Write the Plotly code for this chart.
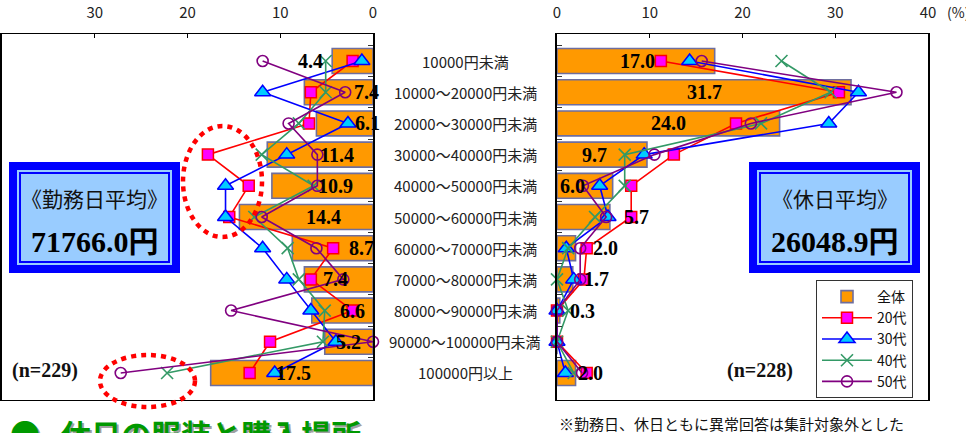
import plotly.graph_objects as go

W, H = 966, 433

categories = [
    "10000円未満", "10000～20000円未満", "20000～30000円未満", "30000～40000円未満",
    "40000～50000円未満", "50000～60000円未満", "60000～70000円未満", "70000～80000円未満",
    "80000～90000円未満", "90000～100000円未満", "100000円以上",
]

# 勤務日 (%)
work_all = [4.4, 7.4, 6.1, 11.4, 10.9, 14.4, 8.7, 7.4, 6.6, 5.2, 17.5]
work_20s = [2.2, 6.7, 6.9, 17.8, 13.4, 15.5, 4.3, 6.7, 2.2, 11.1, 13.3]
work_30s = [1.2, 11.9, 2.7, 9.3, 15.9, 15.9, 11.9, 9.3, 6.7, 4.0, 10.6]
work_40s = [5.1, 5.1, 8.0, 12.0, 6.4, 12.8, 9.2, 8.0, 5.2, 5.4, 22.2]
work_50s = [11.9, 3.0, 9.1, 6.0, 6.0, 12.0, 6.1, 3.2, 15.3, 0.0, 27.2]

# 休日 (%)
hol_all = [17.0, 31.7, 24.0, 9.7, 6.0, 5.7, 2.0, 1.7, 0.3, 0.0, 2.0]
hol_20s = [11.2, 30.4, 19.3, 12.6, 8.0, 8.0, 3.2, 2.9, 0.0, 0.0, 3.2]
hol_30s = [14.3, 32.5, 29.3, 9.4, 4.6, 5.5, 1.0, 1.8, 0.0, 0.0, 0.9]
hol_40s = [24.2, 29.5, 22.0, 7.3, 7.3, 4.1, 1.2, 0.0, 1.2, 0.0, 1.8]
hol_50s = [15.6, 36.6, 20.9, 10.5, 2.8, 5.3, 2.5, 2.5, 0.0, 0.0, 2.7]

x_ticks = [0, 10, 20, 30, 40]

work_avg = "71766.0円"
hol_avg = "26048.9円"
work_n = "(n=229)"
hol_n = "(n=228)"

# where each value label sits along its bar, as a multiple of the bar value
work_lbl_frac = [1.52, 0.09, 0.09, 0.34, 0.37, 0.37, 0.14, 0.54, 0.34, 0.5, 0.49]
hol_lbl_frac = [0.51, 0.5, 0.5, 0.42, 0.27, 1.51, 2.6, 2.53, 9.3, None, 1.78]

series_style = [
    ("20代", dict(symbol="square", size=11, color="#FF00FF", line=dict(color="#FF0000", width=1.5)), "#FF0000"),
    ("30代", dict(symbol="triangle-up", size=14, color="#00CCFF", line=dict(color="#0000FF", width=1.5)), "#0000FF"),
    ("40代", dict(symbol="x-thin-open", size=12, color="#339966", line=dict(color="#339966", width=1.6)), "#339966"),
    ("50代", dict(symbol="circle-open", size=11, color="#800080", line=dict(color="#800080", width=1.6)), "#800080"),
]

fig = go.Figure()

bar_style = dict(orientation="h", marker=dict(color="#FF9900", line=dict(color="#6E6E9E", width=1.6)),
                 hoverinfo="skip")

fig.add_trace(go.Bar(y=categories, x=work_all, name="全体", xaxis="x", yaxis="y",
                     showlegend=False, legendgroup="all", **bar_style))
fig.add_trace(go.Bar(y=categories, x=hol_all, name="全体", xaxis="x2", yaxis="y2",
                     showlegend=True, legendgroup="all", **bar_style))

for (name, mk, lc), wv, hv in zip(series_style,
                                  [work_20s, work_30s, work_40s, work_50s],
                                  [hol_20s, hol_30s, hol_40s, hol_50s]):
    for vals, xa, ya, show in ((wv, "x", "y", False), (hv, "x2", "y2", True)):
        fig.add_trace(go.Scatter(
            y=categories, x=vals, name=name, mode="lines+markers",
            xaxis=xa, yaxis=ya, showlegend=show, legendgroup=name,
            line=dict(color=lc, width=1.6), marker=mk, cliponaxis=False,
        ))

x_dom_l = [2 / W, 373 / W]
x_dom_r = [557 / W, 928 / W]
y_dom = [1 - 400 / H, 1 - 34 / H]

xaxis_common = dict(
    side="top", tickvals=x_ticks, ticks="inside", ticklen=4, tickcolor="#000",
    showline=True, linecolor="#000", linewidth=1, mirror=True, showgrid=False, zeroline=False,
    tickfont=dict(family="Noto Sans CJK JP", size=15, color="#222"), ticklabelstandoff=9,
    automargin=False,
)
yaxis_common = dict(
    type="category", categoryorder="array", categoryarray=categories, autorange="reversed",
    showticklabels=False, ticks="inside", ticklen=5, tickcolor="#333", tickson="boundaries",
    showline=True, linecolor="#000", linewidth=1.5, mirror=True, showgrid=False, automargin=False,
)

fig.update_layout(
    width=W, height=H, margin=dict(l=0, r=0, t=0, b=0, autoexpand=False),
    paper_bgcolor="white", plot_bgcolor="white",
    barmode="overlay", bargap=0.2,
    xaxis=dict(domain=x_dom_l, range=[40, 0], anchor="y", **xaxis_common),
    yaxis=dict(domain=y_dom, anchor="x", side="right", **yaxis_common),
    xaxis2=dict(domain=x_dom_r, range=[0, 40], anchor="y2", **xaxis_common),
    yaxis2=dict(domain=y_dom, anchor="x2", side="left", **yaxis_common),
    legend=dict(x=816 / W, y=1 - 280 / H, xanchor="left", yanchor="top",
                bgcolor="white", bordercolor="#333", borderwidth=1,
                font=dict(family="Noto Sans CJK JP", size=14, color="#111"),
                itemwidth=50, tracegroupgap=0),
    showlegend=True,
)

ann = []


def note(x, y, text, font, xanchor="center", yanchor="middle", xref="paper", yref="paper"):
    ann.append(dict(x=x, xref=xref, y=y, yref=yref, text=text, showarrow=False,
                    xanchor=xanchor, yanchor=yanchor, font=font))


# category labels between the two panels
for c in categories:
    note(465 / W, c, c, dict(family="Noto Sans CJK JP", size=15, color="#222"), yref="y")

lbl_font = dict(family="Liberation Serif", size=20, color="#000", weight="bold")
for c, v, f in zip(categories, work_all, work_lbl_frac):
    note(v * f, c, f"{v:.1f}", lbl_font, xref="x", yref="y")
for c, v, f in zip(categories, hol_all, hol_lbl_frac):
    if f is None:
        continue
    note(v * f, c, f"{v:.1f}", lbl_font, xref="x2", yref="y2")

# percent unit
note(958 / W, 1 - 12 / H, "(%)", dict(family="Noto Sans CJK JP", size=14, color="#222"))

# sample sizes
n_font = dict(family="Liberation Serif", size=20, color="#111", weight="bold")
note(45 / W, 1 - 370 / H, work_n, n_font)
note(760 / W, 1 - 370 / H, hol_n, n_font)

shapes = []


def box(x0, y0, x1, y1, **kw):
    return dict(type="rect", xref="paper", yref="paper",
                x0=x0 / W, x1=x1 / W, y0=1 - y1 / H, y1=1 - y0 / H, layer="above", **kw)


for (bx0, bx1), title, value in (((9, 180), "《勤務日平均》", work_avg),
                                 ((749, 920), "《休日平均》", hol_avg)):
    by0, by1 = 162, 273
    shapes.append(box(bx0, by0, bx1, by1, fillcolor="#0000FF", line=dict(width=0)))
    shapes.append(box(bx0 + 8, by0 + 8, bx1 - 8, by1 - 8, fillcolor="#99CCFF", line=dict(width=0)))
    shapes.append(box(bx0 + 11, by0 + 11, bx1 - 11, by1 - 11,
                      line=dict(color="#0000FF", width=2)))
    cx = (bx0 + bx1) / 2 / W
    note(cx, 1 - 198 / H, title, dict(family="Noto Sans CJK JP", size=21, color="#111"))
    note(cx, 1 - 241 / H, value, dict(family="Liberation Serif, Noto Sans CJK JP", size=30,
                                      color="#000", weight="bold"))

# dotted highlight rings
ring = dict(type="circle", xref="paper", yref="paper", layer="above",
            line=dict(color="#FF0000", width=4.5, dash="5px,5px"))
shapes.append(dict(ring, x0=183 / W, x1=262 / W, y0=1 - 237 / H, y1=1 - 126 / H))
shapes.append(dict(ring, x0=100 / W, x1=195 / W, y0=1 - 407 / H, y1=1 - 355 / H))

# footnote
note(557 / W, 1 - 423 / H, "※勤務日、休日ともに異常回答は集計対象外とした",
     dict(family="Noto Sans CJK JP", size=15, color="#111"), xanchor="left")

# next section heading
for dx, col in ((2, "#A0A0A0"), (0, "#009900")):
    note((8 + dx) / W, 1 - (409 + dx) / H, "●\u2002\u2009休日の服装と購入場所",
         dict(family="Noto Sans CJK JP", size=30, color=col, weight="bold"),
         xanchor="left", yanchor="top")

fig.update_layout(annotations=ann, shapes=shapes)

fig.write_html("out.html")
